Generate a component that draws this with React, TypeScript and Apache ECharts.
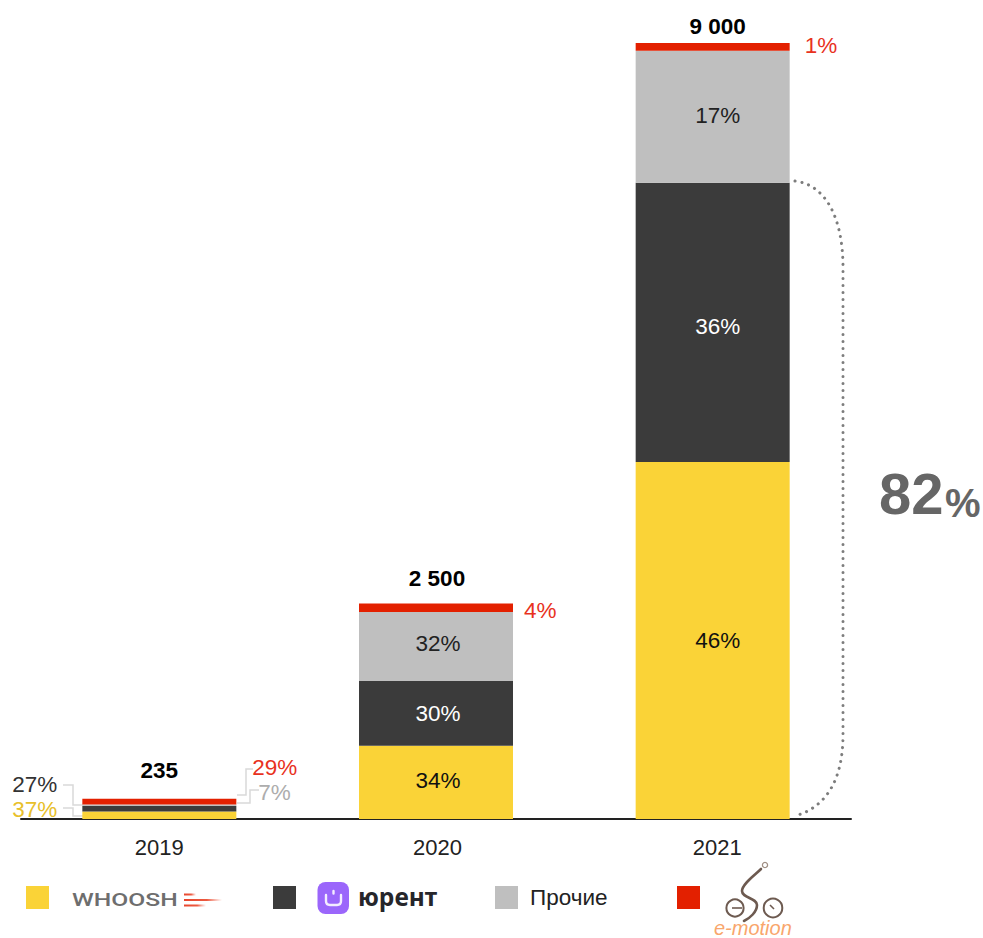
import React, { useEffect, useRef } from "react";
import * as echarts from "echarts";

const years = ["2019", "2020", "2021"];
const totals = [235, 2500, 9000];
const totalLabels = ["235", "2 500", "9 000"];
const whoosh = [87, 850, 4140];
const urent = [63, 750, 3240];
const others = [17, 800, 1530];
const emotion = [68, 100, 90];
const whooshShare = ["37%", "34%", "46%"];
const urentShare = ["27%", "30%", "36%"];
const othersShare = ["7%", "32%", "17%"];
const emotionShare = ["29%", "4%", "1%"];

const YELLOW = "#fad337";
const DARK = "#3b3b3b";
const GREY = "#bfbfbf";
const RED = "#e32000";
const FONT = '"Liberation Sans", Arial, sans-serif';
const TEXT_SIZE = 22.5;

echarts.graphic.registerShape(
  "bracket",
  echarts.graphic.extendPath(
    "M795 181 C826 185 843 218 843 268 L843 735 C843 780 826 806 798 815",
    {}
  )
);
echarts.graphic.registerShape(
  "urentCup",
  echarts.graphic.extendPath(
    "M326 895 L326 901 Q326 905 330 905 L337 905 Q341 905 341 901 L341 895 M333.5 891 L333.5 893.5",
    {}
  )
);
echarts.graphic.registerShape(
  "rider",
  echarts.graphic.extendPath(
    "M761 869 C755 875 742 884 742 891 C742 898 757 898 757 905 C757 912 750 918 744 921",
    {}
  )
);

const barLabel = (color: string) => ({
  show: true,
  position: "inside" as const,
  color,
  fontSize: TEXT_SIZE,
  fontFamily: FONT,
});

// The 2019 column is too thin for inside labels, so they sit beside it.
const sideLabel = (color: string, position: string, distance: number, dy: number) => ({
  position,
  distance,
  offset: [0, dy],
  color,
});

const nudge = (dx: number, dy: number) => ({ offset: [dx, dy] });

const stackSeries = (
  name: string,
  values: number[],
  shares: string[],
  color: string,
  labelColor: string,
  overrides: Record<number, object>
) => ({
  name,
  type: "bar" as const,
  stack: "market",
  barWidth: 154,
  itemStyle: { color },
  label: barLabel(labelColor),
  data: values.map((value, i) => ({
    value,
    label: { formatter: shares[i], ...(overrides[i] || {}) },
  })),
});

const leader = (points: number[][]) => ({
  type: "polyline",
  shape: { points },
  style: { stroke: "#d9d9d9", lineWidth: 1.5, fill: "none" },
});

const legendSquare = (x: number, fill: string) => ({
  type: "rect",
  shape: { x, y: 886, width: 23, height: 23 },
  style: { fill },
});

const streak = (x1: number, x2: number, y: number, h: number) => ({
  type: "rect",
  shape: { x: x1, y, width: x2 - x1, height: h },
  style: {
    fill: new echarts.graphic.LinearGradient(0, 0, 1, 0, [
      { offset: 0, color: "#e8452c" },
      { offset: 0.6, color: "#ec5a40" },
      { offset: 1, color: "rgba(240,110,90,0)" },
    ]),
  },
});

const overlays = [
  // leader lines for the 2019 labels
  leader([[63, 785], [73, 785], [73, 805], [83, 805]]),
  leader([[63, 808], [73, 808], [73, 816], [83, 816]]),
  leader([[253, 769], [246, 769], [246, 795], [237, 795]]),
  leader([[259, 790], [250, 790], [250, 803], [237, 803]]),

  // dotted bracket with the combined share of the two leaders
  {
    type: "bracket",
    style: { stroke: "#7d7d7d", lineWidth: 3, fill: "none", lineDash: [0.1, 6.9], lineCap: "round" },
  },
  {
    type: "text",
    x: 879,
    y: 493,
    style: { text: "82", fill: "#666666", font: `bold 58px ${FONT}`, verticalAlign: "middle" },
  },
  {
    type: "text",
    x: 945,
    y: 503,
    style: { text: "%", fill: "#666666", font: `bold 40px ${FONT}`, verticalAlign: "middle" },
  },

  // legend
  legendSquare(26, YELLOW),
  legendSquare(273, DARK),
  legendSquare(495, GREY),
  legendSquare(677, RED),
  {
    type: "text",
    x: 72,
    y: 900,
    scaleX: 1.3,
    style: { text: "WHOOSH", fill: "#6e6e6e", font: `500 19px Roboto`, verticalAlign: "middle" },
  },
  streak(184, 196, 893.5, 2),
  streak(184, 222, 899, 2),
  streak(184, 206, 904.5, 2),
  {
    type: "rect",
    shape: { x: 317.5, y: 882, width: 31.5, height: 32, r: 8 },
    style: { fill: "#9b66fb" },
  },
  {
    type: "urentCup",
    style: { stroke: "#f3ecff", lineWidth: 2.4, fill: "none", lineCap: "round" },
  },
  {
    type: "text",
    x: 358,
    y: 896,
    style: { text: "юрент", fill: "#26262b", font: `bold 24.5px "Noto Sans"`, verticalAlign: "middle" },
  },
  {
    type: "text",
    x: 530,
    y: 897,
    style: { text: "Прочие", fill: "#222222", font: `${TEXT_SIZE}px ${FONT}`, verticalAlign: "middle" },
  },
  { type: "rider", style: { stroke: "#6d5a50", lineWidth: 2.6, fill: "none", lineCap: "round" } },
  {
    type: "circle",
    shape: { cx: 765, cy: 865, r: 2.6 },
    style: { stroke: "#a08f84", lineWidth: 1.3, fill: "none" },
  },
  {
    type: "circle",
    shape: { cx: 735, cy: 908, r: 8.6 },
    style: { stroke: "#6d5a50", lineWidth: 2, fill: "none" },
  },
  {
    type: "line",
    shape: { x1: 732, y1: 908, x2: 742, y2: 908 },
    style: { stroke: "#6d5a50", lineWidth: 1.6 },
  },
  {
    type: "circle",
    shape: { cx: 773, cy: 908, r: 9.3 },
    style: { stroke: "#6d5a50", lineWidth: 2, fill: "none" },
  },
  {
    type: "line",
    shape: { x1: 770, y1: 905, x2: 774, y2: 909 },
    style: { stroke: "#6d5a50", lineWidth: 1.6 },
  },
  {
    type: "text",
    x: 714,
    y: 928,
    style: { text: "e-motion", fill: "#f9a66c", font: `italic 20px ${FONT}`, verticalAlign: "middle" },
  },
];

export default function App() {
  const ref = useRef<HTMLDivElement>(null);

  useEffect(() => {
    const chart = echarts.init(ref.current!, undefined, { renderer: "svg" });
    chart.setOption({
      animation: false,
      backgroundColor: "#ffffff",
      grid: { left: 21, width: 830, top: 43, bottom: 119 },
      xAxis: {
        type: "category",
        data: years,
        axisTick: { show: false },
        axisLine: { lineStyle: { color: "#222222", width: 2 } },
        axisLabel: {
          color: "#222222",
          fontSize: 22,
          fontFamily: FONT,
          margin: 17,
          formatter: (year: string) => `{y${year}|${year}}`,
          rich: {
            y2019: { fontSize: 22, fontFamily: FONT, color: "#222222" },
            y2020: { fontSize: 22, fontFamily: FONT, color: "#222222", padding: [0, 0, 0, 3] },
            y2021: { fontSize: 22, fontFamily: FONT, color: "#222222", padding: [0, 0, 0, 9] },
          },
        },
      },
      yAxis: { type: "value", min: 0, max: 9000, show: false, splitLine: { show: false } },
      series: [
        stackSeries("Whoosh", whoosh, whooshShare, YELLOW, "#111111", {
          0: sideLabel("#e8c02b", "left", 25, -6),
          1: nudge(2, -2),
          2: nudge(5, 0),
        }),
        stackSeries("Юрент", urent, urentShare, DARK, "#ffffff", {
          0: sideLabel("#333333", "left", 25, -24),
          1: nudge(2, 0),
          2: nudge(5, 4),
        }),
        stackSeries("Прочие", others, othersShare, GREY, "#222222", {
          0: sideLabel("#adadad", "right", 22, -13),
          1: nudge(2, -3),
          2: nudge(5, -1),
        }),
        stackSeries("E-motion", emotion, emotionShare, RED, "#e8321e", {
          0: sideLabel("#e8321e", "right", 16, -34),
          1: sideLabel("#e8321e", "right", 11, 3),
          2: sideLabel("#e8321e", "right", 15, -1),
        }),
        {
          name: "Итого",
          type: "scatter",
          symbolSize: 0,
          itemStyle: { color: "transparent", opacity: 1 },
          silent: true,
          z: 5,
          data: totals.map((value, i) => ({
            value,
            label: {
              show: true,
              position: "top",
              distance: [17, 13, 5][i],
              offset: [[0, 0], [1, 0], [5, 0]][i],
              formatter: totalLabels[i],
              color: "#000000",
              fontSize: TEXT_SIZE,
              fontWeight: "bold",
              fontFamily: FONT,
            },
          })),
        },
      ],
      graphic: { elements: overlays },
    });
    return () => chart.dispose();
  }, []);

  return (
    <div
      ref={ref}
      style={{ position: "fixed", left: 0, top: 0, width: 983, height: 938 }}
    />
  );
}
